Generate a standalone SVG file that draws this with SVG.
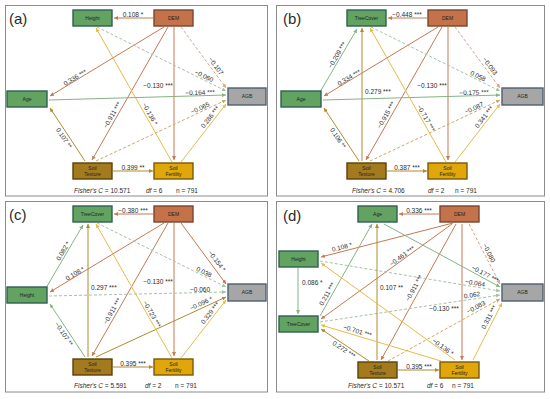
<svg xmlns="http://www.w3.org/2000/svg" width="550" height="399" viewBox="0 0 550 399">
<style>
text{font-family:"Liberation Sans",Arial,sans-serif;fill:#2a2a2a}
.frame{fill:#fff;stroke:#8c8c8c;stroke-width:1}
.pl{font-size:15px}
.lb{font-size:6.5px;text-anchor:middle}
.lbs{font-size:6.5px}
.ft{font-size:6.5px}
.nt{font-size:5px;text-anchor:middle;fill:#222}
.g{fill:#62a362;stroke:#2f5f50;stroke-width:1.4}
.dem{fill:#c4724a;stroke:#7a4530;stroke-width:1.4}
.agb{fill:#a6a6a6;stroke:#4f6070;stroke-width:1.4}
.st{fill:#a47a1e;stroke:#5a4208;stroke-width:1.4}
.sf{fill:#e0a60a;stroke:#7a5a08;stroke-width:1.4}
line{fill:none;stroke-width:1}
.r{stroke:#c47a52;marker-end:url(#mr)}
.gr{stroke:#84b484;marker-end:url(#mg)}
.au{stroke:#b08a30;marker-end:url(#mau)}
.y{stroke:#e6bb4c;marker-end:url(#my)}
.dr{stroke:#d2a488;stroke-dasharray:3 2;marker-end:url(#mdr)}
.dg{stroke:#a6c2a6;stroke-dasharray:3 2;marker-end:url(#mdg)}
.dau{stroke:#caa96a;stroke-dasharray:3 2;marker-end:url(#mdau)}
</style>
<defs>
<marker id="mr" viewBox="0 0 10 10" refX="10" refY="5" markerWidth="4" markerHeight="4" orient="auto" markerUnits="userSpaceOnUse"><path d="M0,0L10,5L0,10z" fill="#c47a52"/></marker>
<marker id="mg" viewBox="0 0 10 10" refX="10" refY="5" markerWidth="4" markerHeight="4" orient="auto" markerUnits="userSpaceOnUse"><path d="M0,0L10,5L0,10z" fill="#84b484"/></marker>
<marker id="mau" viewBox="0 0 10 10" refX="10" refY="5" markerWidth="4" markerHeight="4" orient="auto" markerUnits="userSpaceOnUse"><path d="M0,0L10,5L0,10z" fill="#b08a30"/></marker>
<marker id="my" viewBox="0 0 10 10" refX="10" refY="5" markerWidth="4" markerHeight="4" orient="auto" markerUnits="userSpaceOnUse"><path d="M0,0L10,5L0,10z" fill="#e6bb4c"/></marker>
<marker id="mdr" viewBox="0 0 10 10" refX="10" refY="5" markerWidth="4" markerHeight="4" orient="auto" markerUnits="userSpaceOnUse"><path d="M0,0L10,5L0,10z" fill="#d2a488"/></marker>
<marker id="mdg" viewBox="0 0 10 10" refX="10" refY="5" markerWidth="4" markerHeight="4" orient="auto" markerUnits="userSpaceOnUse"><path d="M0,0L10,5L0,10z" fill="#a6c2a6"/></marker>
<marker id="mdau" viewBox="0 0 10 10" refX="10" refY="5" markerWidth="4" markerHeight="4" orient="auto" markerUnits="userSpaceOnUse"><path d="M0,0L10,5L0,10z" fill="#caa96a"/></marker>
</defs>

<rect width="550" height="399" fill="#fff"/>
<rect class="frame" x="5.5" y="5.5" width="262" height="190.5"/>
<rect class="frame" x="276.5" y="5.5" width="268" height="190.5"/>
<rect class="frame" x="5.5" y="201.5" width="262" height="190.5"/>
<rect class="frame" x="276.5" y="201.5" width="268" height="190.5"/>

<!-- Panel (a) -->
<g id="panel-a">
<text class="pl" x="9" y="24">(a)</text>
<g id="a-connectors">
<line class="r" x1="153" y1="18" x2="114" y2="18"/>
<line class="r" x1="164" y1="27" x2="50" y2="96"/>
<line class="r" x1="168" y1="27" x2="92" y2="160"/>
<line class="r" x1="174" y1="27" x2="174" y2="160"/>
<line class="dr" x1="181" y1="27" x2="226" y2="88"/>
<line class="dg" x1="97" y1="27" x2="226" y2="91"/>
<line class="y" x1="172" y1="162" x2="96" y2="28"/>
<line class="gr" x1="49" y1="100" x2="226" y2="95"/>
<line class="au" x1="85" y1="161" x2="50" y2="108"/>
<line class="dau" x1="96" y1="161" x2="226" y2="100"/>
<line class="y" x1="181" y1="162" x2="226" y2="104"/>
<line class="au" x1="113" y1="171" x2="153" y2="171"/>
<text class="lb" transform="translate(133,14.5)" dy="0.35em">0.108 *</text>
<text class="lb" transform="translate(75,77.5) rotate(-31)" dy="0.35em">0.336 ***</text>
<text class="lb" transform="translate(112,115) rotate(-60)" dy="0.35em">−0.911 ***</text>
<text class="lb" transform="translate(158,86)" dy="0.35em">−0.130 ***</text>
<text class="lb" transform="translate(216,66) rotate(53)" dy="0.35em">−0.107</text>
<text class="lb" transform="translate(204,76) rotate(26)" dy="0.35em">−0.060</text>
<text class="lb" transform="translate(150,114) rotate(60)" dy="0.35em">−0.136 *</text>
<text class="lb" transform="translate(200,92.5) rotate(-1.6)" dy="0.35em">−0.164 ***</text>
<text class="lb" transform="translate(64,138) rotate(56)" dy="0.35em">0.107 **</text>
<text class="lb" transform="translate(200,108) rotate(-25)" dy="0.35em">−0.065</text>
<text class="lb" transform="translate(210,117) rotate(-52)" dy="0.35em">0.286 ***</text>
<text class="lb" transform="translate(133,167.5)" dy="0.35em">0.399 **</text>
</g>
<g id="a-height"><rect class="g" x="73" y="10" width="39" height="16"/><text class="nt" x="92.5" y="19.8">Height</text></g>
<g id="a-dem"><rect class="dem" x="154" y="10" width="39" height="16"/><text class="nt" x="173.5" y="19.8">DEM</text></g>
<g id="a-age"><rect class="g" x="7" y="91" width="40" height="16"/><text class="nt" x="27" y="100.8">Age</text></g>
<g id="a-agb"><rect class="agb" x="228" y="88" width="38" height="17"/><text class="nt" x="247" y="98.3">AGB</text></g>
<g id="a-soiltexture"><rect class="st" x="73" y="163" width="39" height="16"/><text class="nt" x="92.5" y="169.5">Soil</text><text class="nt" x="92.5" y="175.5">Texture</text></g>
<g id="a-soilfertility"><rect class="sf" x="154" y="163" width="39" height="16"/><text class="nt" x="173.5" y="169.5">Soil</text><text class="nt" x="173.5" y="175.5">Fertility</text></g>
<text class="ft" x="74" y="193"><tspan font-style="italic">Fisher's C</tspan> = 10.571</text>
<text class="ft" x="146" y="193"><tspan font-style="italic">df</tspan> = 6</text>
<text class="ft" x="176" y="193">n = 791</text>
</g>

<!-- Panel (b) -->
<g id="panel-b" transform="translate(274,0)">
<text class="pl" x="9" y="24">(b)</text>
<g id="b-connectors">
<line class="r" x1="153" y1="18" x2="114" y2="18"/>
<line class="gr" x1="46" y1="92" x2="83" y2="29"/>
<line class="r" x1="164" y1="27" x2="50" y2="96"/>
<line class="au" x1="88" y1="161" x2="88" y2="28"/>
<line class="r" x1="168" y1="27" x2="92" y2="160"/>
<line class="r" x1="174" y1="27" x2="174" y2="160"/>
<line class="dr" x1="181" y1="27" x2="226" y2="88"/>
<line class="dg" x1="97" y1="27" x2="226" y2="91"/>
<line class="gr" x1="49" y1="100" x2="226" y2="95"/>
<line class="dau" x1="96" y1="161" x2="226" y2="100"/>
<line class="y" x1="181" y1="162" x2="226" y2="104"/>
<line class="y" x1="172" y1="162" x2="96" y2="28"/>
<line class="au" x1="85" y1="161" x2="50" y2="108"/>
<line class="au" x1="113" y1="171" x2="153" y2="171"/>
<text class="lb" transform="translate(133,14.5)" dy="0.35em">−0.448 ***</text>
<text class="lb" transform="translate(63,55) rotate(-59.6)" dy="0.35em">−0.209 ***</text>
<text class="lb" transform="translate(75,77.5) rotate(-31)" dy="0.35em">0.334 ***</text>
<text class="lbs" x="91" y="94">0.279 ***</text>
<text class="lb" transform="translate(112,115) rotate(-60)" dy="0.35em">−0.915 ***</text>
<text class="lb" transform="translate(158,86)" dy="0.35em">−0.130 ***</text>
<text class="lb" transform="translate(216,66) rotate(53)" dy="0.35em">−0.093</text>
<text class="lb" transform="translate(204,76) rotate(26)" dy="0.35em">0.058</text>
<text class="lb" transform="translate(200,92.5) rotate(-1.6)" dy="0.35em">−0.175 ***</text>
<text class="lb" transform="translate(200,108) rotate(-25)" dy="0.35em">−0.087</text>
<text class="lb" transform="translate(210,117) rotate(-52)" dy="0.35em">0.341 ***</text>
<text class="lb" transform="translate(152,118) rotate(60)" dy="0.35em">−0.717 ***</text>
<text class="lb" transform="translate(64,138) rotate(56)" dy="0.35em">0.106 **</text>
<text class="lb" transform="translate(133,167.5)" dy="0.35em">0.387 ***</text>
</g>
<g id="b-treecover"><rect class="g" x="73" y="10" width="39" height="16"/><text class="nt" x="92.5" y="19.8">TreeCover</text></g>
<g id="b-dem"><rect class="dem" x="154" y="10" width="39" height="16"/><text class="nt" x="173.5" y="19.8">DEM</text></g>
<g id="b-age"><rect class="g" x="7" y="91" width="40" height="16"/><text class="nt" x="27" y="100.8">Age</text></g>
<g id="b-agb"><rect class="agb" x="228" y="88" width="41" height="17"/><text class="nt" x="248.5" y="98.3">AGB</text></g>
<g id="b-soiltexture"><rect class="st" x="73" y="163" width="39" height="16"/><text class="nt" x="92.5" y="169.5">Soil</text><text class="nt" x="92.5" y="175.5">Texture</text></g>
<g id="b-soilfertility"><rect class="sf" x="154" y="163" width="39" height="16"/><text class="nt" x="173.5" y="169.5">Soil</text><text class="nt" x="173.5" y="175.5">Fertility</text></g>
<text class="ft" x="78" y="193"><tspan font-style="italic">Fisher's C</tspan> = 4.706</text>
<text class="ft" x="154" y="193"><tspan font-style="italic">df</tspan> = 2</text>
<text class="ft" x="181" y="193">n = 791</text>
</g>

<!-- Panel (c) -->
<g id="panel-c" transform="translate(0,196)">
<text class="pl" x="9" y="24">(c)</text>
<g id="c-connectors">
<line class="r" x1="153" y1="18" x2="114" y2="18"/>
<line class="gr" x1="46" y1="92" x2="83" y2="29"/>
<line class="r" x1="164" y1="27" x2="50" y2="96"/>
<line class="au" x1="88" y1="161" x2="88" y2="28"/>
<line class="r" x1="168" y1="27" x2="92" y2="160"/>
<line class="r" x1="174" y1="27" x2="174" y2="160"/>
<line class="r" x1="181" y1="27" x2="226" y2="88"/>
<line class="dg" x1="97" y1="27" x2="226" y2="91"/>
<line class="dg" x1="49" y1="100" x2="226" y2="96"/>
<line class="au" x1="96" y1="161" x2="226" y2="101"/>
<line class="y" x1="181" y1="162" x2="226" y2="104"/>
<line class="y" x1="172" y1="162" x2="96" y2="28"/>
<line class="gr" x1="85" y1="161" x2="50" y2="108"/>
<line class="au" x1="113" y1="171" x2="153" y2="171"/>
<text class="lb" transform="translate(133,14.5)" dy="0.35em">−0.380 ***</text>
<text class="lb" transform="translate(63,55) rotate(-59.6)" dy="0.35em">0.082 *</text>
<text class="lb" transform="translate(75,77.5) rotate(-31)" dy="0.35em">0.108 *</text>
<text class="lbs" x="91" y="94">0.297 ***</text>
<text class="lb" transform="translate(112,115) rotate(-60)" dy="0.35em">−0.911 ***</text>
<text class="lb" transform="translate(158,86)" dy="0.35em">−0.130 ***</text>
<text class="lb" transform="translate(217,65) rotate(53)" dy="0.35em">−0.154 *</text>
<text class="lb" transform="translate(204,76) rotate(26)" dy="0.35em">0.038</text>
<text class="lb" transform="translate(200,93.5)" dy="0.35em">−0.060</text>
<text class="lb" transform="translate(201,107.5) rotate(-25)" dy="0.35em">−0.096 *</text>
<text class="lb" transform="translate(210,117) rotate(-52)" dy="0.35em">0.329 ***</text>
<text class="lb" transform="translate(152,118) rotate(60)" dy="0.35em">−0.723 ***</text>
<text class="lb" transform="translate(64,138) rotate(56)" dy="0.35em">−0.107 **</text>
<text class="lb" transform="translate(133,167.5)" dy="0.35em">0.395 ***</text>
</g>
<g id="c-treecover"><rect class="g" x="73" y="10" width="39" height="16"/><text class="nt" x="92.5" y="19.8">TreeCover</text></g>
<g id="c-dem"><rect class="dem" x="154" y="10" width="39" height="16"/><text class="nt" x="173.5" y="19.8">DEM</text></g>
<g id="c-height"><rect class="g" x="7" y="91" width="40" height="16"/><text class="nt" x="27" y="100.8">Height</text></g>
<g id="c-agb"><rect class="agb" x="228" y="88" width="38" height="17"/><text class="nt" x="247" y="98.3">AGB</text></g>
<g id="c-soiltexture"><rect class="st" x="73" y="163" width="39" height="16"/><text class="nt" x="92.5" y="169.5">Soil</text><text class="nt" x="92.5" y="175.5">Texture</text></g>
<g id="c-soilfertility"><rect class="sf" x="154" y="163" width="39" height="16"/><text class="nt" x="173.5" y="169.5">Soil</text><text class="nt" x="173.5" y="175.5">Fertility</text></g>
<text class="ft" x="74" y="192"><tspan font-style="italic">Fisher's C</tspan> = 5.591</text>
<text class="ft" x="145" y="192"><tspan font-style="italic">df</tspan> = 2</text>
<text class="ft" x="175" y="192">n = 791</text>
</g>

<!-- Panel (d) -->
<g id="panel-d">
<text class="pl" x="283" y="221">(d)</text>
<g id="d-connectors">
<line class="r" x1="439" y1="214" x2="399" y2="214"/>
<line class="r" x1="453" y1="223" x2="321" y2="257"/>
<line class="r" x1="452" y1="224" x2="321" y2="319"/>
<line class="r" x1="456" y1="224" x2="381" y2="360"/>
<line class="r" x1="462" y1="224" x2="462" y2="360"/>
<line class="dr" x1="469" y1="224" x2="500" y2="284"/>
<line class="gr" x1="384" y1="224" x2="500" y2="287"/>
<line class="dg" x1="320" y1="261" x2="500" y2="291"/>
<line class="dg" x1="320" y1="322" x2="500" y2="295"/>
<line class="dau" x1="388" y1="361" x2="500" y2="299"/>
<line class="y" x1="473" y1="360" x2="502" y2="303"/>
<line class="gr" x1="298" y1="268" x2="298" y2="314"/>
<line class="gr" x1="320" y1="316" x2="372" y2="224"/>
<line class="au" x1="377" y1="360" x2="377" y2="224"/>
<line class="y" x1="455" y1="360" x2="321" y2="263"/>
<line class="y" x1="441" y1="361" x2="321" y2="325"/>
<line class="au" x1="369" y1="361" x2="321" y2="329"/>
<line class="au" x1="398" y1="370" x2="439" y2="370"/>
<text class="lb" transform="translate(419,210.5)" dy="0.35em">0.336 ***</text>
<text class="lb" transform="translate(342,247) rotate(-14.2)" dy="0.35em">0.108 *</text>
<text class="lb" transform="translate(402,256) rotate(-36)" dy="0.35em">−0.461 ***</text>
<text class="lb" transform="translate(414,288) rotate(-61)" dy="0.35em">−0.911 ***</text>
<text class="lb" transform="translate(444,309)" dy="0.35em">−0.130 ***</text>
<text class="lb" transform="translate(489,253) rotate(63)" dy="0.35em">−0.080</text>
<text class="lb" transform="translate(485,274) rotate(28.5)" dy="0.35em">−0.177 ***</text>
<text class="lb" transform="translate(475,283) rotate(9.5)" dy="0.35em">−0.064</text>
<text class="lb" transform="translate(472,295) rotate(-8.5)" dy="0.35em">0.062</text>
<text class="lb" transform="translate(476,307) rotate(-29)" dy="0.35em">−0.083</text>
<text class="lb" transform="translate(489,317) rotate(-62.6)" dy="0.35em">0.331 ***</text>
<text class="lbs" x="302" y="285">0.086 *</text>
<text class="lb" transform="translate(327,294) rotate(-60.5)" dy="0.35em">0.211 ***</text>
<text class="lbs" x="380" y="290">0.107 **</text>
<text class="lb" transform="translate(443,347) rotate(36)" dy="0.35em">−0.136 *</text>
<text class="lb" transform="translate(357.5,331) rotate(16.7)" dy="0.35em">−0.701 ***</text>
<text class="lb" transform="translate(344,349.5) rotate(33.7)" dy="0.35em">0.272 ***</text>
<text class="lb" transform="translate(419,366.5)" dy="0.35em">0.395 ***</text>
</g>
<g id="d-age"><rect class="g" x="358" y="206" width="39" height="16"/><text class="nt" x="377.5" y="215.8">Age</text></g>
<g id="d-dem"><rect class="dem" x="440" y="206" width="39" height="16"/><text class="nt" x="459.5" y="215.8">DEM</text></g>
<g id="d-height"><rect class="g" x="279" y="251" width="39" height="16"/><text class="nt" x="298.5" y="260.8">Height</text></g>
<g id="d-treecover"><rect class="g" x="279" y="316" width="39" height="16"/><text class="nt" x="298.5" y="325.8">TreeCover</text></g>
<g id="d-agb"><rect class="agb" x="502" y="284" width="41" height="17"/><text class="nt" x="522.5" y="294.3">AGB</text></g>
<g id="d-soiltexture"><rect class="st" x="358" y="362" width="39" height="16"/><text class="nt" x="377.5" y="368.5">Soil</text><text class="nt" x="377.5" y="374.5">Texture</text></g>
<g id="d-soilfertility"><rect class="sf" x="440" y="362" width="39" height="16"/><text class="nt" x="459.5" y="368.5">Soil</text><text class="nt" x="459.5" y="374.5">Fertility</text></g>
<text class="ft" x="348" y="388"><tspan font-style="italic">Fisher's C</tspan> = 10.571</text>
<text class="ft" x="427" y="388"><tspan font-style="italic">df</tspan> = 6</text>
<text class="ft" x="452" y="388">n = 791</text>
</g>
</svg>
